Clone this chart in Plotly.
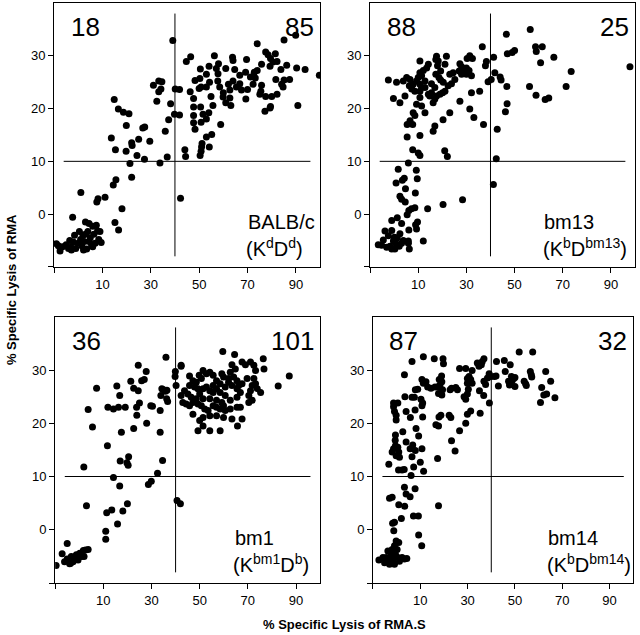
import plotly.graph_objects as go

# ---------------- data ----------------
balbc_x = [39.1, 85.1, 89.9, 74.0, 56.3, 46.5, 44.7, 63.8, 64.0, 69.6,
           77.5, 78.5, 79.5, 80.5, 81.5, 82.2, 86.2, 93.8, 90.3, 99.7,
           83.8, 79.3, 75.8, 74.0, 73.2, 71.2, 69.2, 66.8, 64.7, 61.0,
           58.0, 57.1, 57.8, 54.1, 50.5, 48.3, 50.3, 46.3, 50.0, 50.8,
           53.0, 54.3, 57.7, 58.5, 60.0, 62.1, 62.7, 64.0, 65.4, 66.8,
           67.5, 62.7, 63.1, 61.0, 59.9, 69.3, 75.5, 77.5, 75.1, 80.0,
           79.5, 79.3, 77.2, 82.2, 81.7, 85.1, 84.1, 84.7, 87.4, 90.8,
           72.3, 70.0, 75.8, 72.8, 53.0, 54.9, 55.7, 54.0, 53.0, 50.8,
           51.6, 47.7, 47.7, 47.7, 47.7, 48.3, 50.6, 58.9, 55.2, 53.0,
           54.2, 51.2, 51.0, 50.8, 50.4, 44.1, 44.4, 42.3, 40.1, 41.9,
           39.8, 41.9, 38.2, 36.8, 37.4, 36.0, 31.1, 32.5, 33.3, 33.3,
           34.6, 34.2, 29.6, 33.8, 27.4, 26.7, 27.5, 25.0, 24.3, 22.1,
           22.3, 21.4, 22.1, 19.8, 19.9, 21.0, 18.7, 16.6, 14.9, 15.4,
           13.7, 14.5, 15.6, 11.1, 7.7, 8.2, 1.1, -2.3, 18.1, 15.2,
           16.7,
           -9.0, -8.2, -7.5, -6.5, -5.0, -4.0, -3.5, -3.0, -2.0, -1.5,
           -1.0, 0.0, 0.5, 1.0, 1.5, 2.0, 2.5, 3.0, 3.5, 4.0,
           4.5, 5.0, 5.5, 6.0, 6.5, 7.0, 7.5, 8.0, 8.5, 9.0,
           9.5, 4.5, 2.2, -2.8, 6.0, 3.0]
balbc_y = [32.9, 33.0, 33.9, 32.3, 30.0, 29.8, 28.9, 29.7, 29.1, 29.3,
           30.7, 30.2, 29.5, 28.8, 30.4, 28.9, 28.2, 27.4, 27.7, 26.3,
           27.4, 28.0, 28.4, 27.2, 25.8, 26.0, 26.9, 26.3, 27.4, 27.6,
           28.5, 27.6, 26.6, 28.0, 27.5, 25.3, 25.7, 23.2, 23.8, 24.1,
           26.5, 25.0, 25.2, 24.1, 23.0, 24.6, 23.5, 25.2, 24.1, 24.7,
           23.5, 22.0, 20.6, 21.1, 22.2, 21.8, 23.3, 22.3, 22.7, 22.3,
           20.4, 20.1, 19.5, 22.7, 25.5, 25.4, 24.6, 24.1, 25.5, 20.6,
           24.6, 23.6, 24.4, 26.9, 24.1, 22.3, 20.6, 19.2, 18.0, 17.4,
           18.9, 21.9, 20.3, 18.7, 17.3, 16.1, 20.3, 17.0, 15.1, 14.6,
           12.7, 13.4, 12.7, 11.9, 11.1, 12.2, 10.9, 3.0, 23.7, 23.6,
           18.9, 18.8, 20.9, 10.8, 17.9, 15.7, 24.4, 21.4, 23.2, 25.2,
           25.1, 23.7, 13.8, 9.7, 10.4, 16.3, 16.5, 14.2, 11.1, 13.5,
           13.0, 9.6, 7.0, 11.9, 16.8, 19.0, 19.3, 19.9, 21.7, 12.2,
           14.4, 5.5, 6.5, 3.2, 2.3, 2.9, 4.1, -0.6, 1.0, -1.6,
           -3.0,
           -5.6, -6.0, -7.0, -6.2, -5.8, -6.5, -5.0, -6.3, -5.3, -4.0,
           -6.5, -5.5, -3.3, -4.8, -6.0, -4.0, -5.2, -1.5, -6.6, -3.3,
           -1.8, -4.5, -5.8, -2.3, -3.8, -5.5, -2.1, -3.2, -4.8, -3.3,
           -5.4, -5.2, -6.8, -6.8, -6.2, -3.8]

bm13_x = [46.6, 56.5, 49.0, 50.0, 47.0, 58.7, 61.5, 59.0, 60.8, 66.3,
          97.9, 73.5, 71.4, 56.2, 58.9, 62.7, 64.2, 46.8, 46.9, 46.2,
          41.8, 41.3, 38.3, 37.9, 36.6, 40.3, 39.0, 37.1, 42.8, 44.0,
          44.4, 42.4, 41.2,
          21.0, 22.1, 10.0, 10.7, 7.7, 5.9, 1.7, 9.2, 9.6, 8.8,
          4.2, 3.4, 0.8, 4.7, 2.4, 3.1, 4.6, 6.1, 7.2, 8.6,
          5.4, 13.9, 20.3, 28.4, 12.1, 9.7, 8.9, 9.3, 6.1, 6.3,
          5.9, 5.9, 3.1, 1.3, -1.0,
          -6.6, -4.5, -3.8, -2.4, -1.7, -1.0, -0.3, 0.1, 0.8, 1.3,
          2.1, 3.1, 3.8, -3.1, -5.2, -1.0, 2.4, 0.3,
          31.4, 30.3, 32.5, 27.3, 28.0, 28.9, 30.0, 31.1, 30.0, 32.1,
          28.0, 27.0, 24.5, 23.1, 25.2, 23.8, 22.4, 21.1, 20.1, 19.0,
          17.6, 16.9, 16.2, 17.6, 17.3, 18.3, 21.7, 21.1, 18.0, 19.3,
          17.3, 18.6, 19.3, 20.4, 10.7, 14.2, 13.5, 12.1, 10.7, 11.4,
          10.0, 12.8, 10.7, 12.8, 10.7, 14.2, 14.8, 15.5, 16.9, 15.5,
          1.0, 3.8, 5.2, 6.6, 6.3, 7.9, 9.3, 7.3, 8.6, 11.4,
          -0.3, 2.4, 4.5, 10.7, 9.3, 11.4, 7.9, 6.6, 7.7, 12.8,
          16.9, 16.2, 10.7, 23.1, 27.3, 31.4, 32.1, 35.5, 33.1, -2.4,
          20.3, 5.4, 5.4, 8.6]
bm13_y = [34.1, 35.0, 30.6, 31.0, 30.4, 31.7, 31.7, 30.8, 28.7, 29.7,
          27.9, 27.0, 24.2, 24.2, 22.5, 21.7, 22.0, 24.2, 20.9, 19.4,
          26.8, 29.7, 28.9, 28.1, 31.7, 25.5, 25.1, 17.0, 16.1, 26.0,
          25.4, 10.5, 5.6,
          12.0, 10.9, 11.6, 11.1, 12.2, 9.7, 8.5, 8.3, 6.7, 4.0,
          6.8, 6.4, 5.9, 4.8, 3.4, 2.8, 2.3, 0.7, 1.0, 1.2,
          -0.1, 1.0, 1.8, 2.7, -5.1, -1.5, -2.0, -2.8, -3.0, -6.6,
          -5.1, -5.5, -1.8, -0.7, -1.2,
          -5.8, -4.9, -3.2, -4.1, -6.1, -3.1, -5.1, -4.4, -5.6, -4.5,
          -6.1, -5.5, -5.0, -6.3, -5.9, -6.6, -3.7, -6.6,
          30.0, 29.5, 29.5, 28.5, 27.9, 27.4, 27.7, 27.2, 26.5, 26.2,
          26.5, 27.1, 26.8, 26.5, 25.5, 24.7, 24.3, 23.3, 23.0, 22.7,
          22.4, 21.8, 21.1, 29.9, 29.3, 29.0, 29.9, 28.4, 28.1, 27.1,
          26.5, 25.9, 25.4, 25.0, 29.0, 28.4, 27.7, 27.2, 26.8, 26.2,
          25.9, 25.2, 24.6, 24.0, 23.3, 22.7, 22.4, 23.0, 24.0, 24.7,
          25.0, 25.2, 25.9, 25.5, 24.3, 24.6, 25.2, 23.7, 23.3, 24.0,
          21.9, 21.1, 22.4, 22.1, 20.8, 20.5, 19.2, 17.7, 17.0, 19.2,
          16.7, 15.7, 14.9, 19.2, 21.4, 19.9, 23.0, 23.3, 18.3, 25.4,
          17.9, 14.6, 17.0, 18.7]

bm1_x = [36.0, 42.3, 39.9, 39.8, 24.5, 27.8, 27.0, 25.9, 21.4, 7.2,
         22.6, 24.5, 25.0, 23.8, 23.9, 22.6, 28.0, 29.7, 30.4, 33.6,
         33.9, 34.3, 35.0, 35.8, 36.4, 36.3, 36.7, 40.2, 33.6, 34.6,
         32.5, 29.9, 28.7, 40.6, 42.0, 15.6, 16.8, 16.3, 14.2, 11.9,
         19.1, 11.7, 17.5, 17.0, 19.8, 20.3, 20.5, 14.2, 16.8, 1.9,
         3.7, 5.5, 3.0, 11.4, 13.5, 18.1, 20.0, 15.9, 11.0, 11.0,
         -9.6, -7.1, -6.1, -5.0, -4.0, -3.3, -2.6, -1.9, -1.2, -0.5,
         0.2, 1.0, 1.7, 2.6, 3.7, -5.0, -3.6, 2.0,
         59.6, 64.5, 67.6, 69.0, 71.1, 76.4, 76.7, 72.5, 73.2, 63.4,
         64.8, 62.7, 42.3, 87.2, 82.6, 51.4, 52.8, 49.8, 45.8, 47.2,
         45.8, 48.6, 50.7, 54.2, 55.6, 57.0, 59.2, 59.9, 62.0, 64.1,
         65.5, 66.2, 67.6, 69.7, 72.5, 73.2, 73.9, 71.8, 71.1, 75.3,
         70.4, 66.9, 65.5, 63.4, 62.0, 60.6, 58.5, 57.0, 55.6, 54.2,
         52.8, 51.4, 49.3, 47.9, 50.0, 55.6, 58.5, 60.6, 62.7, 65.5,
         66.9, 70.4, 71.8, 59.9, 59.2, 57.0, 54.2, 51.4, 48.6, 46.5,
         45.1, 43.7, 42.3, 43.0, 44.4, 45.8, 47.2, 49.3, 50.7, 52.1,
         53.5, 55.6, 57.0, 58.5, 60.6, 62.7, 65.5, 67.6, 63.4, 59.9,
         57.0, 54.2, 51.4, 50.0, 47.2, 51.4, 54.2, 58.5, 49.3, 65.7]
bm1_y = [32.4, 30.7, 29.7, 28.8, 30.9, 29.7, 28.2, 28.0, 27.9, 26.6,
         26.6, 26.1, 23.8, 23.0, 21.5, 19.0, 20.0, 23.3, 23.2, 22.4,
         25.2, 26.5, 26.3, 26.0, 26.2, 24.6, 24.1, 27.1, 18.3, 13.0,
         10.6, 9.1, 8.5, 5.5, 4.9, 27.0, 25.2, 23.0, 22.7, 23.0,
         23.0, 15.8, 18.3, 12.9, 12.6, 12.1, 13.7, 9.8, 8.2, 11.8,
         22.6, 19.3, 4.5, 3.2, 3.7, 3.5, 4.9, 1.1, -0.3, -1.8,
         -6.7, -4.5, -6.0, -5.5, -6.4, -5.0, -6.0, -5.4, -4.7, -5.7,
         -4.4, -5.0, -3.9, -3.8, -3.7, -2.6, -6.3, -5.0,
         33.5, 32.9, 31.5, 31.0, 31.5, 32.1, 30.2, 30.9, 29.9, 31.0,
         30.2, 29.6, 30.9, 28.9, 27.0, 29.9, 29.3, 29.0, 28.9, 28.0,
         27.1, 27.7, 28.4, 29.6, 29.0, 28.0, 29.3, 28.7, 28.4, 28.7,
         28.0, 27.1, 27.4, 28.4, 28.4, 27.4, 26.5, 27.1, 26.1, 25.8,
         25.2, 25.8, 26.5, 27.1, 27.7, 26.8, 27.4, 26.5, 27.1, 26.1,
         26.8, 26.5, 26.5, 26.8, 25.5, 25.8, 25.8, 25.2, 24.3, 24.9,
         23.0, 23.9, 24.3, 23.3, 23.9, 24.3, 24.6, 24.6, 24.6, 24.9,
         25.5, 26.1, 25.2, 23.9, 23.6, 23.3, 23.9, 23.6, 23.3, 22.7,
         22.4, 23.3, 23.0, 22.7, 22.4, 22.7, 23.0, 20.8, 20.8, 21.1,
         21.4, 21.4, 21.1, 20.5, 21.7, 19.5, 18.6, 18.6, 18.6, 19.5]

bm14_x = [51.8, 57.5, 42.2, 45.5, 48.0, 45.9, 48.5, 49.5, 48.8, 50.0,
          47.3, 47.7, 50.0, 43.0, 41.3, 42.0, 39.1, 39.8, 38.4, 36.9,
          37.6, 36.2, 36.9, 35.8, 34.8, 34.1, 31.9, 30.6, 29.9, 31.3,
          31.9, 29.9, 29.2, 26.6, 30.3, 29.9, 29.2, 28.5, 31.3, 29.9,
          29.2, 26.6, 35.3, 35.0, 36.8, 39.2, 25.0, 25.7, 23.2, 22.6,
          22.2, 22.9, 23.2, 24.7, 15.9, 19.6, 19.8, 11.3, 6.5, 3.3,
          19.0, 18.0, 19.1, 18.3, 17.3, 19.4, 19.1, 17.7, 16.2, 14.5,
          13.1, 12.4, 11.3, 10.7, 8.9, 7.9, 6.5, 7.5, 3.5, -1.3,
          -1.3, -0.9, -0.2, -0.2, 0.5, 4.0, 5.8, 7.8, 10.3, 11.0,
          10.7, 11.0, 9.3, 8.2, 16.6, 17.7, 17.9, 18.7, 17.3, 17.7,
          10.7, 10.0, 11.4, 6.8, 7.9, 5.7, 6.5, 7.2, 6.1, 2.6,
          4.0, -0.5, -0.6, -0.5, 0.5, 0.9, -0.2, 1.2, -1.3, -1.9,
          -3.3, 0.8, 2.3, 3.2, 7.8, 5.7, 4.0, 0.9, 3.4, 3.3,
          -3.0, -1.9, 2.0, 7.1, 9.2, -1.7, -0.9, -1.2, 9.3, 10.6,
          -7.5, -5.1, -4.4, -3.7, -3.3, -2.3, -1.9, -1.6, -0.9, -0.5,
          -0.2, 0.2, 0.5, 0.9, 1.2, 2.3, 3.3, 4.3, -3.0, -5.8,
          -0.9,
          53.9, 54.5, 54.8, 56.5, 56.9, 57.1, 63.0, 65.1, 61.3, 62.2,
          63.4, 60.8, 66.9]
bm14_y = [33.4, 33.4, 31.6, 31.8, 31.0, 29.7, 28.8, 28.4, 28.0, 28.6,
          27.9, 27.2, 26.9, 27.0, 28.8, 28.9, 29.3, 28.8, 28.5, 27.9,
          27.3, 31.6, 32.1, 31.0, 30.7, 31.3, 29.9, 28.8, 28.4, 28.2,
          27.5, 27.5, 30.3, 30.3, 26.4, 25.5, 24.5, 25.0, 22.3, 21.7,
          20.0, 18.6, 21.9, 26.1, 25.2, 23.8, 26.7, 26.3, 26.6, 26.3,
          21.5, 21.1, 16.7, 14.8, 32.1, 32.1, 31.2, 32.5, 31.6, 29.1,
          28.9, 28.2, 27.8, 27.2, 26.8, 26.3, 25.3, 25.6, 26.8, 26.6,
          26.8, 27.8, 27.5, 28.2, 26.4, 26.3, 24.9, 24.9, 25.0, 23.8,
          23.1, 22.2, 21.5, 20.6, 23.8, 22.2, 21.1, 22.5, 24.5, 23.8,
          23.3, 21.2, 17.6, 19.0, 19.7, 19.5, 21.2, 21.5, 13.4, 4.5,
          15.2, 12.7, 11.0, 15.9, 14.9, 15.2, 13.7, 11.8, 10.2, 18.4,
          16.5, 17.8, 16.8, 15.8, 15.5, 14.6, 13.9, 13.6, 15.2, 14.6,
          12.3, 11.2, 11.2, 11.3, 7.7, 6.2, 6.7, 4.7, 4.4, 8.0,
          5.9, 6.1, 2.1, 2.6, 2.6, 1.2, 1.4, -0.2, -1.0, -3.0,
          -5.7, -6.2, -5.2, -4.0, -5.7, -4.6, -3.7, -5.5, -3.0, -4.6,
          -2.1, -3.7, -5.2, -2.4, -5.9, -5.2, -5.5, -5.4, -6.5, -5.2,
          -6.5,
          27.9, 27.4, 27.1, 29.7, 29.1, 28.7, 29.7, 27.9, 26.7, 25.3,
          25.5, 23.9, 24.8]

panel_names = ["BALB/c", "bm13", "bm1", "bm14"]
panel_haplo = ["(K<sup>d</sup>D<sup>d</sup>)", "(K<sup>b</sup>D<sup>bm13</sup>)",
               "(K<sup>bm1</sup>D<sup>b</sup>)", "(K<sup>b</sup>D<sup>bm14</sup>)"]
count_left = ["18", "88", "36", "87"]
count_right = ["85", "25", "101", "32"]

x_tickvals = [10, 30, 50, 70, 90]
x_ticktext = ["10", "30", "50", "70", "90"]
y_tickvals = [0, 10, 20, 30]
y_ticktext = ["0", "10", "20", "30"]
corner_tick = [-10]
x_cut, y_cut = 40, 10
vline_span = (-8, 38)
hline_span = (-6, 96)

xaxis_title = "% Specific Lysis of RMA.S"
yaxis_title = "% Specific Lysis of RMA"

# ---------------- figure ----------------
FONT = "Liberation Sans, Arial, Helvetica, sans-serif"
series = [(balbc_x, balbc_y), (bm13_x, bm13_y), (bm1_x, bm1_y), (bm14_x, bm14_y)]
x_domains = [[0.0, 0.458], [0.544, 1.0], [0.002, 0.458], [0.549, 0.997]]
y_domains = [[0.545, 1.0], [0.545, 1.0], [0.0, 0.459], [0.0, 0.459]]

fig = go.Figure()
layout = dict(
    width=640, height=635,
    margin=dict(l=54, r=5, t=3, b=52),
    paper_bgcolor="white", plot_bgcolor="white",
    showlegend=False,
    font=dict(family=FONT, size=13, color="black"),
)
shapes = []
annotations = []
for i, (xs, ys) in enumerate(series):
    n = "" if i == 0 else str(i + 1)
    xa, ya = "x" + n, "y" + n
    fig.add_trace(go.Scatter(x=xs, y=ys, mode="markers", xaxis=xa, yaxis=ya,
                             marker=dict(color="black", size=7, line=dict(width=0)),
                             hoverinfo="x+y"))
    common = dict(showline=True, linecolor="black", linewidth=1, mirror=True,
                  showgrid=False, zeroline=False, ticks="outside", ticklen=5,
                  tickwidth=1, tickcolor="black",
                  minor=dict(tickvals=corner_tick, ticks="outside", ticklen=5,
                             tickwidth=1, tickcolor="black", showgrid=False),
                  tickfont=dict(family=FONT, size=13, color="black"))
    layout["xaxis" + n] = dict(common, domain=x_domains[i], range=[-10, 100],
                               tickvals=x_tickvals, ticktext=x_ticktext, anchor=ya)
    layout["yaxis" + n] = dict(common, domain=y_domains[i], range=[-10, 40],
                               tickvals=y_tickvals, ticktext=y_ticktext, anchor=xa)
    shapes.append(dict(type="line", xref=xa, yref=ya, x0=x_cut, x1=x_cut,
                       y0=vline_span[0], y1=vline_span[1],
                       line=dict(color="black", width=1)))
    shapes.append(dict(type="line", xref=xa, yref=ya, x0=hline_span[0], x1=hline_span[1],
                       y0=y_cut, y1=y_cut, line=dict(color="black", width=1)))
    xd, yd = xa + " domain", ya + " domain"
    annotations.append(dict(text=count_left[i], xref=xd, yref=yd, x=0.055, y=0.91,
                            xanchor="left", yanchor="middle", showarrow=False,
                            font=dict(family=FONT, size=26, color="black")))
    annotations.append(dict(text=count_right[i], xref=xd, yref=yd, x=0.985, y=0.91,
                            xanchor="right", yanchor="middle", showarrow=False,
                            font=dict(family=FONT, size=26, color="black")))
    lab_x = [0.72, 0.65, 0.67, 0.665][i]
    annotations.append(dict(text=panel_names[i], xref=xd, yref=yd, x=lab_x, y=0.17,
                            xanchor="left", yanchor="middle", showarrow=False,
                            font=dict(family=FONT, size=20, color="black")))
    annotations.append(dict(text=panel_haplo[i], xref=xd, yref=yd, x=lab_x - 0.005, y=0.075,
                            xanchor="left", yanchor="middle", showarrow=False,
                            font=dict(family=FONT, size=20, color="black")))

annotations.append(dict(text="<b>" + yaxis_title + "</b>", xref="paper", yref="paper",
                        x=-0.074, y=0.505, textangle=-90, showarrow=False,
                        xanchor="center", yanchor="middle",
                        font=dict(family=FONT, size=13, color="black")))
annotations.append(dict(text="<b>" + xaxis_title + "</b>", xref="paper", yref="paper",
                        x=0.5, y=-0.071, showarrow=False,
                        xanchor="center", yanchor="middle",
                        font=dict(family=FONT, size=13, color="black")))
layout["shapes"] = shapes
layout["annotations"] = annotations
fig.update_layout(**layout)
# remove the browser's default 8px page margin so the figure sits at the window origin
fig.write_html("out.html", config={"displayModeBar": False},
               post_script="document.body.style.margin='0';")
